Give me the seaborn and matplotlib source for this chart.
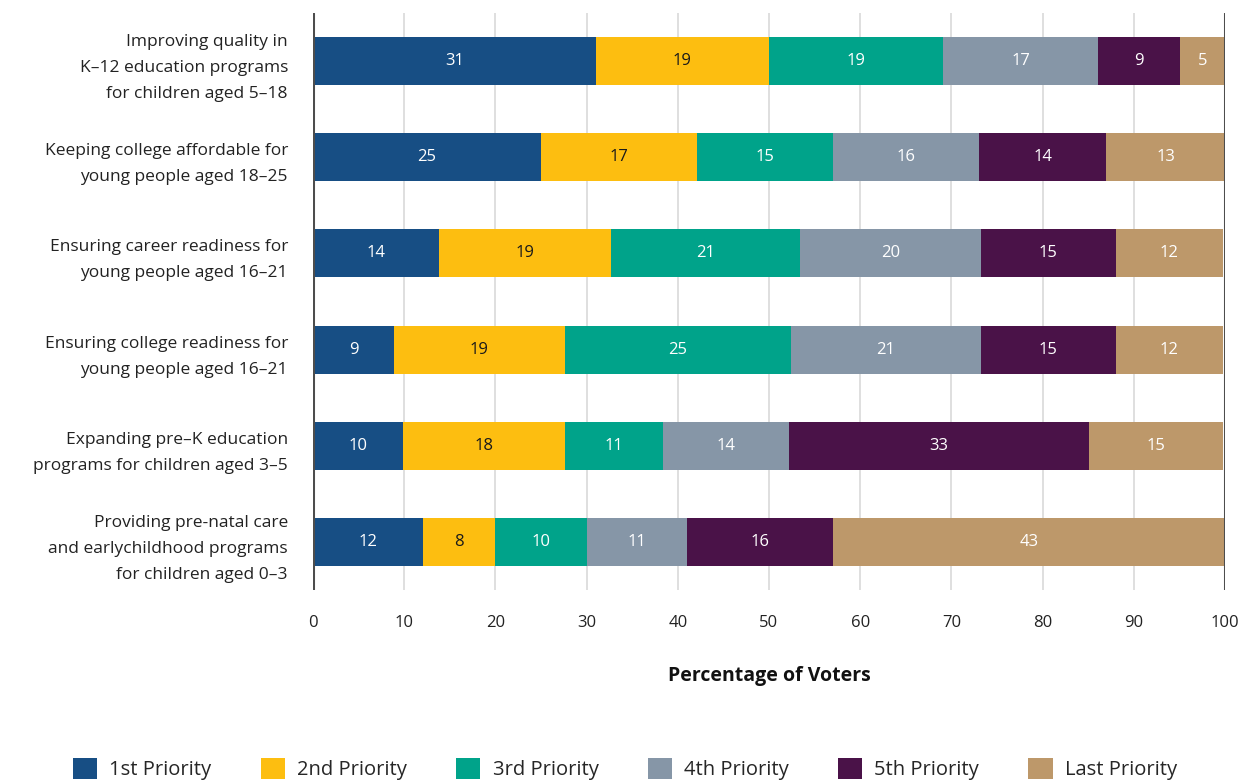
import numpy as np
import pandas as pd
import matplotlib
matplotlib.use("Agg")
import matplotlib.pyplot as plt
import seaborn as sns
from matplotlib.patches import Patch

categories = [
    "Improving quality in\nK\u201312 education programs\nfor children aged 5\u201318",
    "Keeping college affordable for\nyoung people aged 18\u201325",
    "Ensuring career readiness for\nyoung people aged 16\u201321",
    "Ensuring college readiness for\nyoung people aged 16\u201321",
    "Expanding pre\u2013K education\nprograms for children aged 3\u20135",
    "Providing pre-natal care\nand earlychildhood programs\nfor children aged 0\u20133",
]
series_names = ["1st Priority", "2nd Priority", "3rd Priority",
                "4th Priority", "5th Priority", "Last Priority"]
p1 = [31.0, 25.0, 13.8, 8.9, 9.9, 12.1]
p2 = [19.0, 17.1, 18.9, 18.7, 17.7, 7.9]
p3 = [19.1, 14.9, 20.7, 24.8, 10.8, 10.0]
p4 = [17.0, 16.0, 19.8, 20.8, 13.8, 11.0]
p5 = [9.0, 14.0, 14.8, 14.8, 32.9, 16.0]
plast = [4.9, 13.0, 11.8, 11.8, 14.7, 43.0]
label_p1 = [31, 25, 14, 9, 10, 12]
label_p2 = [19, 17, 19, 19, 18, 8]
label_p3 = [19, 15, 21, 25, 11, 10]
label_p4 = [17, 16, 20, 21, 14, 11]
label_p5 = [9, 14, 15, 15, 33, 16]
label_plast = [5, 13, 12, 12, 15, 43]
xticks = [0, 10, 20, 30, 40, 50, 60, 70, 80, 90, 100]

colors = ["#174e84", "#fdbe10", "#00a38a", "#8696a7", "#4a1248", "#bd986a"]
text_colors = ["white", "#1a1a1a", "white", "white", "white", "white"]

sns.set_theme(style="white")
plt.rcParams["font.family"] = ["Open Sans", "DejaVu Sans"]

values = np.array([p1, p2, p3, p4, p5, plast])
labels = np.array([label_p1, label_p2, label_p3, label_p4, label_p5, label_plast])
cum = np.cumsum(values, axis=0)

fig = plt.figure(figsize=(12.5, 7.82), dpi=100)
ax = fig.add_axes([313 / 1250, 1 - 590 / 782, 912 / 1250, 577 / 782])

# gridlines
for t in xticks[1:-1]:
    ax.axvline(t, color="#d9d9d9", lw=1.2, zorder=0)

# draw stacked bars: largest cumulative first
for i in range(len(series_names) - 1, -1, -1):
    df = pd.DataFrame({"cat": categories, "val": cum[i]})
    sns.barplot(data=df, x="val", y="cat", order=categories, orient="h",
                color=colors[i], saturation=1, width=0.5, ax=ax, zorder=2,
                linewidth=0)

for i in range(len(series_names)):
    for j in range(len(categories)):
        xc = cum[i, j] - values[i, j] / 2
        ax.text(xc, j, f"{labels[i, j]}", ha="center", va="center",
                fontsize=12, color=text_colors[i], zorder=5)

ax.set_xlim(0, 100)
ax.set_ylim(5.5, -0.5)
ax.axvline(0, color="#4d4d4d", lw=2.2, zorder=6)
ax.axvline(100, color="#4d4d4d", lw=2.2, zorder=6)
for s in ax.spines.values():
    s.set_visible(False)
ax.set_xticks(xticks)
ax.set_xticklabels([str(t) for t in xticks], fontsize=12, color="#222222")
ax.tick_params(axis="x", length=0, pad=18)
ax.tick_params(axis="y", length=0, pad=18)
for lbl in ax.get_yticklabels():
    lbl.set_fontsize(12.5)
    lbl.set_color("#222222")
    lbl.set_linespacing(1.83)
    lbl.set_ha("right")
ax.set_ylabel("")
ax.set_xlabel("Percentage of Voters", fontsize=14, fontweight="bold",
              color="#111111", labelpad=25)

handles = [Patch(facecolor=c, edgecolor="none") for c in colors]
fig.legend(handles, series_names, loc="center", bbox_to_anchor=(0.5, 13 / 782),
           ncol=6, frameon=False, fontsize=14.5, handlelength=1.2,
           handleheight=1.2, columnspacing=2.45, handletextpad=0.6)

fig.savefig("out.png", dpi=100)
